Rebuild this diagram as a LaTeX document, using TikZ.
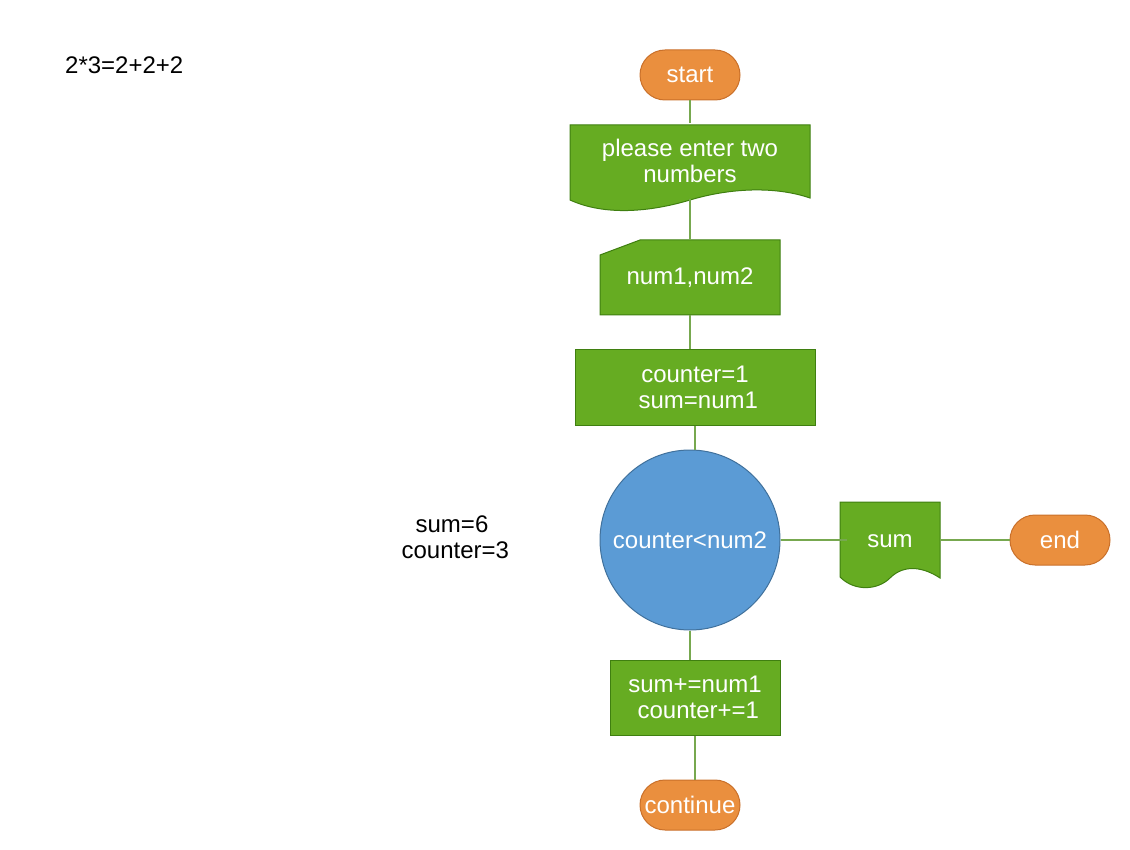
\documentclass[tikz,border=0pt]{standalone}
\usepackage{fontspec}
\setmainfont{Liberation Sans}
\usetikzlibrary{positioning}
\definecolor{flowgreen}{HTML}{66AC22}
\definecolor{flowgreenline}{HTML}{3F7F10}
\definecolor{flowblue}{HTML}{5B9BD5}
\definecolor{flowblueline}{HTML}{41719C}
\definecolor{floworange}{HTML}{EA8F3E}
\definecolor{floworangeline}{HTML}{C9702A}
\definecolor{wire}{HTML}{77A84F}
\tikzset{
  every node/.style={font=\fontsize{24}{26}\selectfont, text=white, align=center, inner sep=0pt},
  terminal/.style={draw=floworangeline, fill=floworange, line width=1pt, rounded corners=25pt, minimum width=100pt, minimum height=50pt},
  procbox/.style={draw=flowgreenline, fill=flowgreen, line width=1pt, minimum height=75pt},
  shapebox/.style={minimum height=75pt},
  greenshape/.style={draw=flowgreenline, fill=flowgreen, line width=1pt},
  decision/.style={circle, draw=flowblueline, fill=flowblue, line width=1pt, minimum size=180pt},
  note/.style={text=black},
  wireline/.style={draw=wire, line width=2.5pt}
}
\begin{document}
\begin{tikzpicture}[x=1pt,y=-1pt]
  \useasboundingbox (0,0) rectangle (1130,850);
  % shapes drawn as paths
  \path[greenshape] (570,125) -- (810,125) -- (810,198)
    .. controls (775,186) and (730,188) .. (690,200)
    .. controls (650,212) and (605,216) .. (570,200) -- cycle;
  \path[greenshape] (600,255) -- (640,240) -- (780,240) -- (780,315) -- (600,315) -- cycle;
  \path[greenshape] (840,502) -- (940,502) -- (940,578)
    .. controls (925,568) and (905,563) .. (890,578)
    .. controls (878,590) and (855,592) .. (840,577) -- cycle;
  % nodes
  \node[terminal] (start) at (690,75) {start};
  \node[shapebox, minimum width=240pt] (prompt) at (690,161) {please enter two\\numbers};
  \node[shapebox, minimum width=180pt] (inputs) at (690,277.5) {num1,num2};
  \node[procbox, minimum width=240pt] (init) at (695,387.5) {counter=1\\\ sum=num1};
  \node[decision] (check) at (690,540) {counter<num2};
  \node[shapebox, minimum width=100pt] (result) at (890,541.5) {sum};
  \node[terminal] (end) at (1060,540) {end};
  \node[procbox, minimum width=170pt] (loop) at (695,697.5) {sum+=num1\\\ counter+=1};
  \node[terminal] (cont) at (690,805) {continue};
  \node[note, anchor=west] (eq) at (65,65) {2*3=2+2+2};
  \node[note] (trace) at (452,537) {sum=6\\\ counter=3};
  % connectors
  \draw[wireline] (start) -- (prompt);
  \draw[wireline] (prompt) -- (inputs);
  \draw[wireline] (inputs.south) -- (inputs.south |- init.north);
  \draw[wireline] (init.south) -- (init.south |- check.north);
  \draw[wireline] (check.east) -- ([xshift=7pt]check.east -| result.west);
  \draw[wireline] (result.east |- end.west) -- (end.west);
  \draw[wireline] (check.south) -- (check.south |- loop.north);
  \draw[wireline] (loop.south) -- (loop.south |- cont.north);
\end{tikzpicture}
\end{document}
